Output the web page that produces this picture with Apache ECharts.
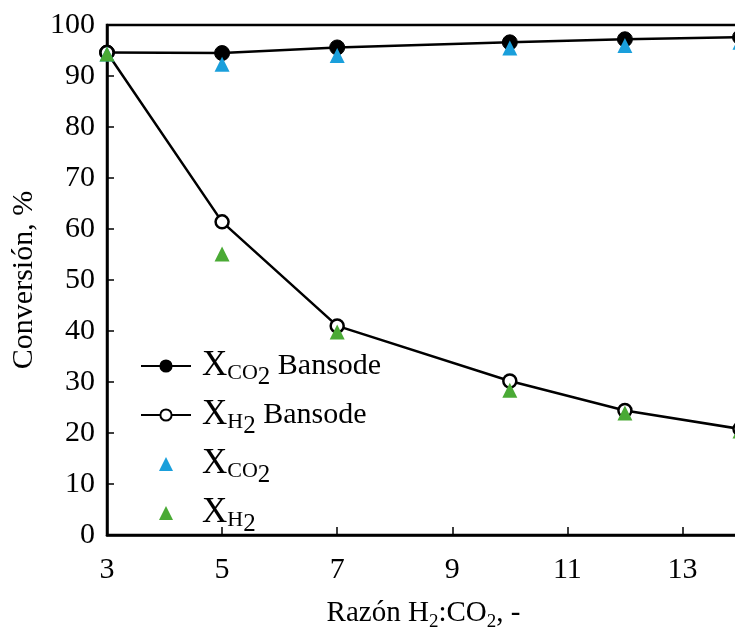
<!DOCTYPE html>
<html><head><meta charset="utf-8">
<script src="https://cdn.jsdelivr.net/npm/echarts@6/dist/echarts.min.js"></script>
<style>html,body{margin:0;padding:0;background:#fff}#c{width:735px;height:633px}</style>
</head><body><div id="c"></div>
<script>
const ratios = [3, 5, 7, 10, 12, 14];
const xco2Bansode = [94.6, 94.5, 95.6, 96.6, 97.2, 97.6];
const xh2Bansode = [94.6, 61.4, 41.0, 30.2, 24.4, 20.8];
const xco2 = [94.3, 92.3, 94.0, 95.5, 96.0, 96.6];
const xh2 = [94.3, 55.1, 39.8, 28.4, 23.9, 20.4];
const xTicks = [3, 5, 7, 9, 11, 13];

const serif = 'Liberation Serif';
const pair = (xs, ys) => xs.map((x, i) => [x, ys[i]]);

const legendText = {
  'XCO2 Bansode': '{x|X}{s|CO}{n|2}{b| Bansode}',
  'XH2 Bansode': '{x|X}{s|H}{n|2}{b| Bansode}',
  'XCO2': '{x|X}{s|CO}{n|2}',
  'XH2': '{x|X}{s|H}{n|2}'
};
const triIcon = 'path://M0,10L5,0L10,10Z';

const chart = echarts.init(document.getElementById('c'), null, {renderer: 'canvas'});
chart.setOption({
  animation: false,
  backgroundColor: '#fff',
  grid: {left: 107, top: 25, right: -5, bottom: 98, show: true, borderColor: '#000', borderWidth: 2.5,
    backgroundColor: 'transparent', containLabel: false, outerBoundsMode: 'none'},
  xAxis: {
    type: 'value', min: 3, max: 14, interval: 2,
    axisLine: {lineStyle: {color: '#000', width: 2.5}},
    axisTick: {inside: true, length: 8, lineStyle: {color: '#000', width: 1.5}},
    axisLabel: {color: '#000', fontFamily: serif, fontSize: 30, margin: 20,
      customValues: xTicks, formatter: v => xTicks.includes(v) ? String(v) : ''},
    splitLine: {show: false},
    name: '{t|Razón H}{s|2}{t|:CO}{s|2}{t|, -}',
    nameLocation: 'middle', nameGap: 64,
    nameTextStyle: {rich: {
      t: {fontFamily: serif, fontSize: 29, color: '#000', verticalAlign: 'top', lineHeight: 34},
      s: {fontFamily: serif, fontSize: 19, color: '#000', verticalAlign: 'top', padding: [14, 0, 0, 0], lineHeight: 34}
    }}
  },
  yAxis: {
    type: 'value', min: 0, max: 100, interval: 10,
    axisLine: {show: true, lineStyle: {color: '#000', width: 2.5}},
    axisTick: {show: true, inside: true, length: 7, lineStyle: {color: '#000', width: 1.5}},
    axisLabel: {color: '#000', fontFamily: serif, fontSize: 30, margin: 12},
    splitLine: {show: false},
    name: 'Conversión, %', nameLocation: 'middle', nameGap: 68,
    nameTextStyle: {color: '#000', fontFamily: serif, fontSize: 30}
  },
  legend: {
    orient: 'vertical', left: 135, top: 343, itemGap: 7,
    itemWidth: 50, itemHeight: 14,
    data: [
      {name: 'XCO2 Bansode'},
      {name: 'XH2 Bansode'},
      {name: 'XCO2', icon: triIcon},
      {name: 'XH2', icon: triIcon}
    ],
    formatter: n => legendText[n],
    textStyle: {rich: {
      x: {fontFamily: serif, fontSize: 35, color: '#000', verticalAlign: 'top', lineHeight: 36, padding: [0, 0, 0, 6]},
      s: {fontFamily: serif, fontSize: 22, color: '#000', verticalAlign: 'top', padding: [14, 0, 0, 0], lineHeight: 36},
      n: {fontFamily: serif, fontSize: 25, color: '#000', verticalAlign: 'top', padding: [17, 0, 0, 0], lineHeight: 36},
      b: {fontFamily: serif, fontSize: 30, color: '#000', verticalAlign: 'top', padding: [3, 0, 0, 0], lineHeight: 36}
    }}
  },
  series: [
    {name: 'XCO2 Bansode', type: 'line', data: pair(ratios, xco2Bansode), symbol: 'circle', symbolSize: 15,
      lineStyle: {color: '#000', width: 2.5}, itemStyle: {color: '#000', borderColor: '#000', borderWidth: 1}, z: 2},
    {name: 'XH2 Bansode', type: 'line', data: pair(ratios, xh2Bansode), symbol: 'circle', symbolSize: 13,
      lineStyle: {color: '#000', width: 2.5}, itemStyle: {color: '#fff', borderColor: '#000', borderWidth: 2.5}, z: 2},
    {name: 'XCO2', type: 'scatter', data: pair(ratios, xco2), symbol: 'triangle', symbolSize: [15, 15],
      itemStyle: {color: '#1a9fdb', opacity: 1}, z: 3},
    {name: 'XH2', type: 'scatter', data: pair(ratios, xh2), symbol: 'triangle', symbolSize: [15, 15],
      itemStyle: {color: '#4aaa35', opacity: 1}, z: 4}
  ]
});
</script></body></html>
